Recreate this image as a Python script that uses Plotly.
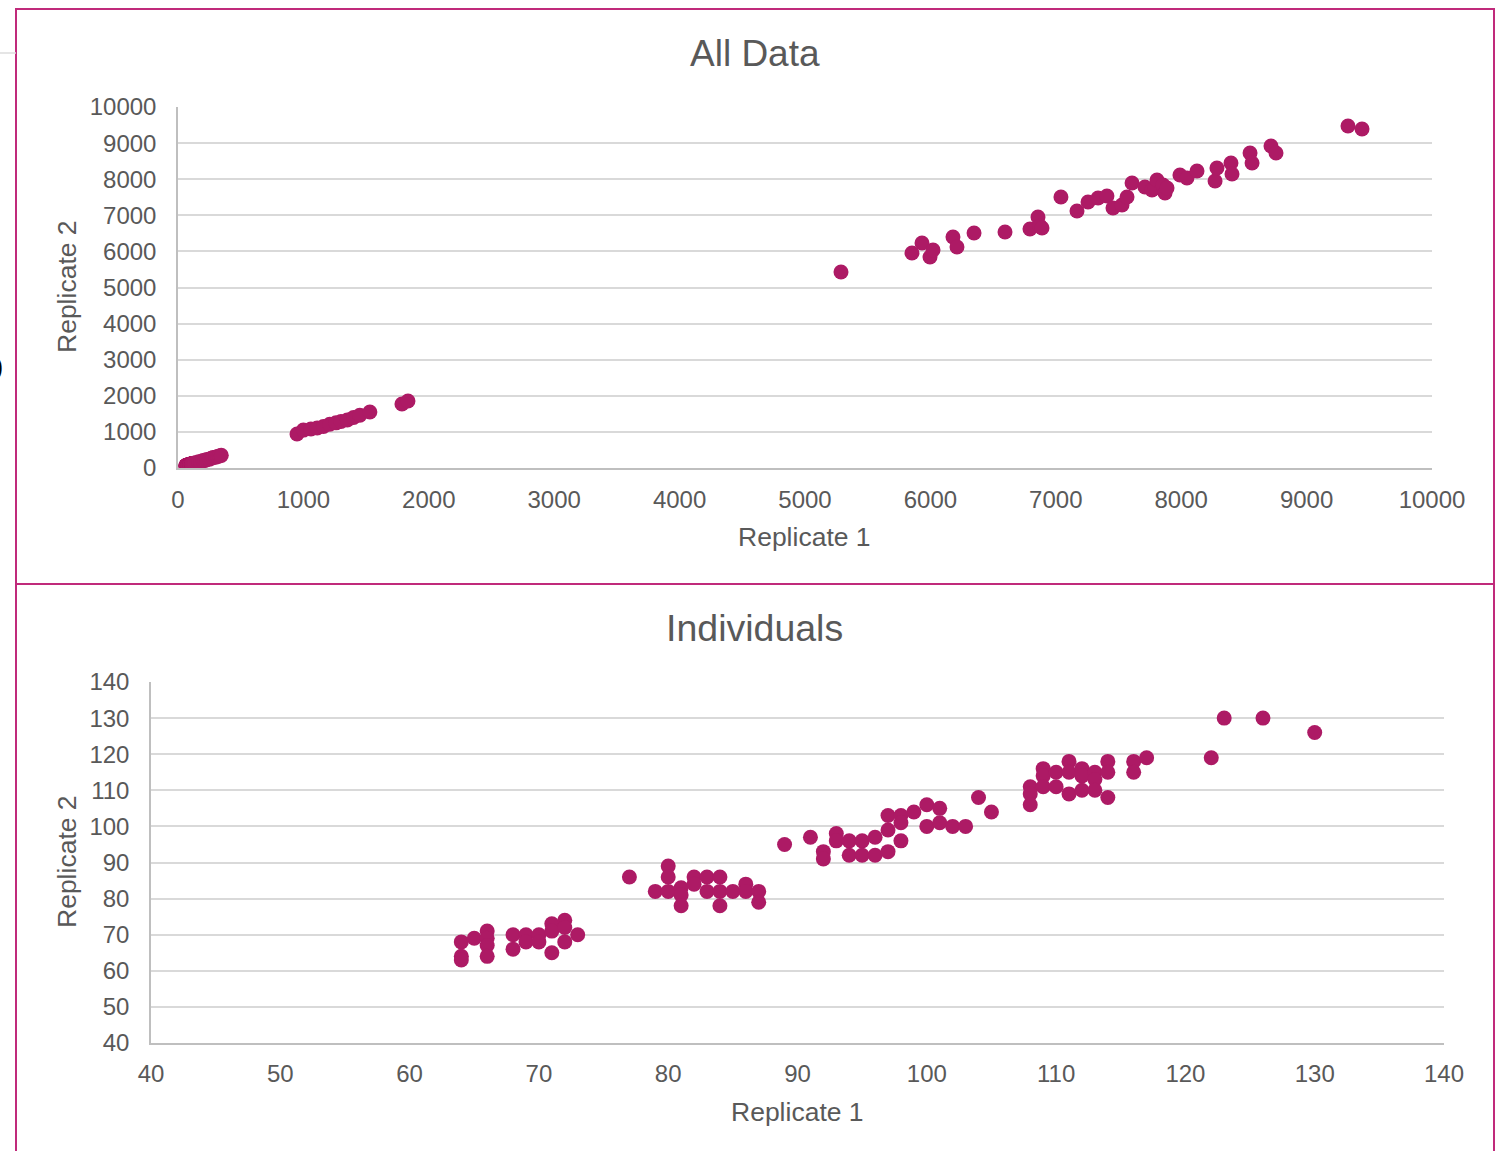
import plotly.graph_objects as go

# ---------------- data ----------------
# Individuals (bottom chart)
ind_rep1 = [64, 64, 64, 65, 66, 66, 66, 66, 68, 68, 69, 69, 70, 70, 71, 71, 71, 72, 72, 72, 73,
            77, 79, 80, 80, 80, 81, 81, 81, 82, 82, 83, 83, 84, 84, 84, 85, 86, 86, 87, 87,
            89, 91, 92, 92, 93, 93, 94, 94, 95, 95, 96, 96, 97, 97, 97, 98, 98, 98, 99, 100, 100,
            101, 101, 102, 103, 104, 105,
            108, 108, 108, 109, 109, 109, 110, 110, 111, 111, 111, 112, 112, 112, 113, 113, 113,
            114, 114, 114, 116, 116, 117, 122, 123, 126, 130]
ind_rep2 = [68, 64, 63, 69, 71, 69, 67, 64, 70, 66, 70, 68, 70, 68, 73, 71, 65, 74, 72, 68, 70,
            86, 82, 89, 86, 82, 83, 81, 78, 86, 84, 86, 82, 86, 82, 78, 82, 84, 82, 82, 79,
            95, 97, 93, 91, 98, 96, 96, 92, 96, 92, 97, 92, 103, 99, 93, 103, 101, 96, 104, 106, 100,
            105, 101, 100, 100, 108, 104,
            111, 109, 106, 116, 114, 111, 115, 111, 118, 115, 109, 116, 114, 110, 115, 113, 110,
            118, 115, 108, 118, 115, 119, 119, 130, 130, 126]

# Additional groups shown only in "All Data"
grp_rep1 = [135, 150, 165, 180, 200, 215, 230, 250, 265, 280, 300, 315, 330, 345,
            949, 1000, 1060, 1110, 1160, 1210, 1260, 1300, 1350, 1400, 1450, 1530, 1786, 1834]
grp_rep2 = [140, 148, 170, 176, 205, 210, 238, 245, 270, 290, 296, 320, 335, 350,
            942, 1050, 1080, 1110, 1150, 1210, 1250, 1290, 1330, 1400, 1460, 1551, 1773, 1856]

pool_rep1 = [5287, 5853, 5933, 5997, 6021, 6180, 6212, 6348, 6595, 6794, 6858, 6874, 6890,
             7041, 7169, 7257, 7337, 7408, 7456, 7528, 7568, 7608, 7711, 7767, 7791, 7807,
             7855, 7871, 7887, 7990, 8046, 8126, 8270, 8285, 8397, 8405, 8549, 8565, 8716,
             8756, 9330, 9442]
pool_rep2 = [5429, 5956, 6233, 5845, 6039, 6399, 6122, 6510, 6537, 6620, 6953, 6700, 6648,
             7507, 7119, 7368, 7479, 7535, 7202, 7285, 7507, 7895, 7784, 7701, 7756, 7978,
             7839, 7618, 7756, 8116, 8033, 8227, 7950, 8310, 8449, 8144, 8726, 8449, 8920,
             8726, 9474, 9391]

all_rep1 = ind_rep1 + grp_rep1 + pool_rep1
all_rep2 = ind_rep2 + grp_rep2 + pool_rep2

top_ticks = list(range(0, 10001, 1000))
bot_ticks = list(range(40, 141, 10))

# ---------------- styling ----------------
W, H = 1503, 1151
MARK = "#AD1A65"
TXT = "#595959"
GRID = "#D9D9D9"
AXL = "#BFBFBF"
BORDER = "#C02A7B"
FONT = "Liberation Sans, Arial, sans-serif"


def px(x):
    return x / W


def py(y):
    return 1 - y / H


fig = go.Figure()
fig.add_trace(go.Scatter(x=all_rep1, y=all_rep2, mode="markers", xaxis="x", yaxis="y",
                         marker=dict(size=15, color=MARK, line=dict(width=0)),
                         showlegend=False, hoverinfo="x+y"))
fig.add_trace(go.Scatter(x=ind_rep1, y=ind_rep2, mode="markers", xaxis="x2", yaxis="y2",
                         marker=dict(size=15, color=MARK, line=dict(width=0)),
                         showlegend=False, hoverinfo="x+y"))

axis_common = dict(gridcolor=GRID, gridwidth=1.5, zeroline=False, automargin=False,
                   ticks="", tickfont=dict(family=FONT, size=24, color=TXT),
                   showline=True, linecolor=AXL, linewidth=1.5, fixedrange=True)

fig.update_layout(
    width=W, height=H, margin=dict(l=0, r=0, t=0, b=0, autoexpand=False),
    paper_bgcolor="white", plot_bgcolor="white", showlegend=False,
    font=dict(family=FONT, color=TXT),
    xaxis=dict(axis_common, showgrid=False, domain=[px(178), px(1432)], range=[0, 10000],
               tickvals=top_ticks, ticktext=[str(t) for t in top_ticks],
               anchor="y", ticklabelstandoff=9),
    yaxis=dict(axis_common, showgrid=True, domain=[py(468), py(107)], range=[0, 10000],
               tickvals=top_ticks, ticktext=[str(t) for t in top_ticks],
               anchor="x", ticklabelstandoff=15),
    xaxis2=dict(axis_common, showgrid=False, domain=[px(151), px(1444)], range=[40, 140],
                tickvals=bot_ticks, ticktext=[str(t) for t in bot_ticks],
                anchor="y2", ticklabelstandoff=8),
    yaxis2=dict(axis_common, showgrid=True, domain=[py(1043), py(682)], range=[40, 140],
                tickvals=bot_ticks, ticktext=[str(t) for t in bot_ticks],
                anchor="x2", ticklabelstandoff=15),
)


def label(text, x, y, size, angle=0, color=TXT, xanchor="center"):
    return dict(text=text, x=px(x), y=py(y), xref="paper", yref="paper",
                xanchor=xanchor, yanchor="middle", textangle=angle,
                showarrow=False, font=dict(family=FONT, size=size, color=color))


ann = [
    label("All Data", 755, 53, 37),
    label("Individuals", 755, 628, 37.5),
    label("Replicate 1", 804, 537, 26.5),
    label("Replicate 1", 797, 1112, 26.5),
    label("Replicate 2", 67, 287, 26.5, angle=-90),
    label("Replicate 2", 67, 862, 26.5, angle=-90),
    # partially visible glyph at the page's left edge (as in the screenshot)
    label("0", 5, 368, 34, color="#000000", xanchor="right"),
]
fig.update_layout(annotations=ann)

shapes = []
# chart borders
shapes.append(dict(type="rect", xref="paper", yref="paper",
                   x0=px(16), x1=px(1494), y0=py(584), y1=py(9),
                   line=dict(color=BORDER, width=2), fillcolor="rgba(0,0,0,0)", layer="above"))
shapes.append(dict(type="rect", xref="paper", yref="paper",
                   x0=px(16), x1=px(1494), y0=py(1160), y1=py(584),
                   line=dict(color=BORDER, width=2), fillcolor="rgba(0,0,0,0)", layer="above"))
# stray light-grey line at the top-left edge
shapes.append(dict(type="line", xref="paper", yref="paper",
                   x0=0, x1=px(16), y0=py(53), y1=py(53),
                   line=dict(color="#DDDDDD", width=1.5)))
fig.update_layout(shapes=shapes)

fig.write_html("out.html")
